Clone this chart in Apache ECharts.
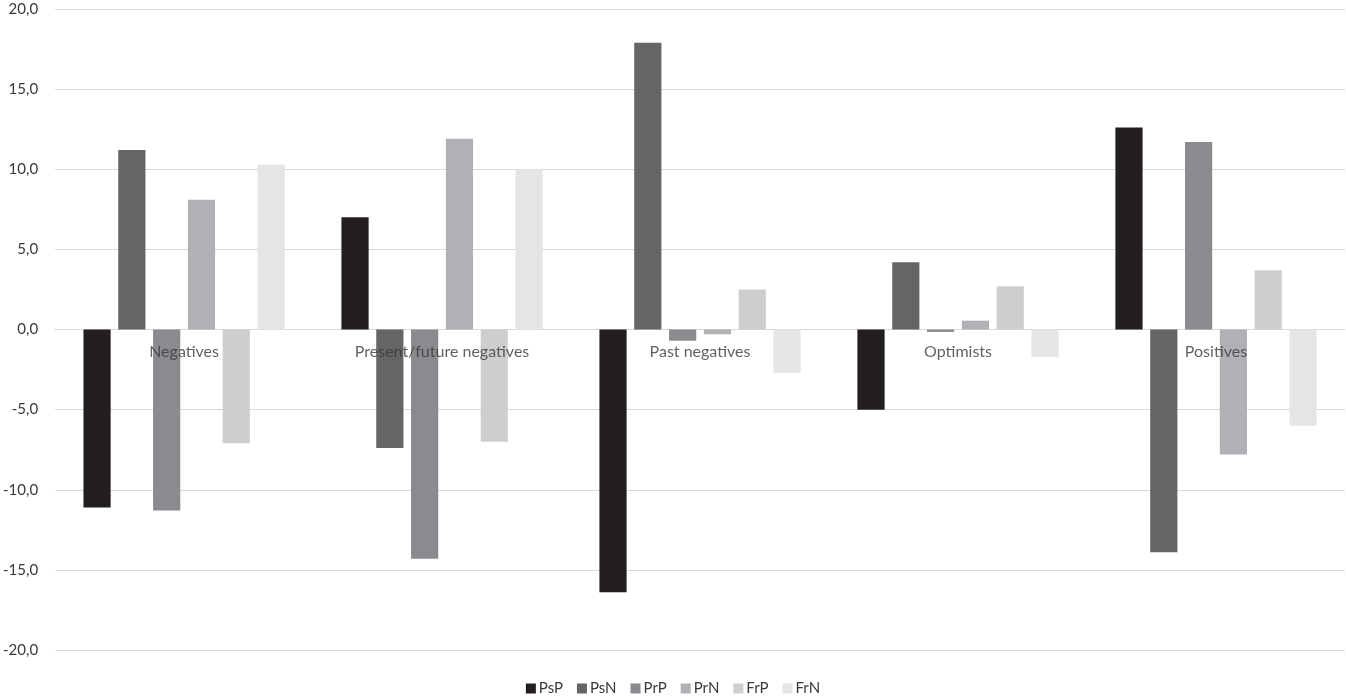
<!DOCTYPE html>
<html>
<head>
<meta charset="utf-8">
<script src="https://cdn.jsdelivr.net/npm/echarts@6/dist/echarts.min.js"></script>
<style>html,body{margin:0;padding:0;background:#fff}#c{width:1346px;height:696px}</style>
</head>
<body>
<div id="c"></div>
<script>
const categories = ['Negatives', 'Present/future negatives', 'Past negatives', 'Optimists', 'Positives'];
const seriesNames = ['PsP', 'PsN', 'PrP', 'PrN', 'FrP', 'FrN'];
const PsP = [-11.1, 7.0, -16.4, -5.0, 12.6];
const PsN = [11.2, -7.4, 17.9, 4.2, -13.9];
const PrP = [-11.3, -14.3, -0.7, -0.15, 11.7];
const PrN = [8.1, 11.9, -0.3, 0.55, -7.8];
const FrP = [-7.1, -7.0, 2.5, 2.7, 3.7];
const FrN = [10.3, 10.0, -2.7, -1.7, -6.0];
const seriesValues = [PsP, PsN, PrP, PrN, FrP, FrN];
const colors = ['#231f20', '#646567', '#8a8b8e', '#b0b1b4', '#cdcecf', '#e5e5e5'];

const chart = echarts.init(document.getElementById('c'), null, {renderer: 'canvas'});
const font = 'Lato, "Open Sans", sans-serif';
const barSeries = seriesNames.map((n, i) => ({
  name: n,
  type: 'bar',
  data: seriesValues[i],
  barGap: '28%',
  barCategoryGap: '22%',
  itemStyle: {color: colors[i]},
  z: 2
}));
// category labels sitting just below the zero line
const labelSeries = {
  name: 'categoryLabels',
  type: 'scatter',
  data: categories.map(c => [c, 0]),
  symbolSize: 0,
  silent: true,
  z: 10,
  label: {
    show: true,
    position: 'bottom',
    distance: 14,
    formatter: p => p.data[0],
    fontSize: 16,
    color: '#3a3a3a',
    fontFamily: font
  }
};
chart.setOption({
  animation: false,
  color: colors,
  textStyle: {fontFamily: font},
  grid: {left: 55, right: 1, top: 9, bottom: 46, containLabel: false},
  legend: {
    data: seriesNames,
    bottom: -5,
    left: 'center',
    icon: 'rect',
    itemWidth: 10,
    itemHeight: 10,
    itemGap: 14,
    textStyle: {fontSize: 15, color: '#3a3a3a', fontFamily: font, padding: [0, 0, 0, -2]}
  },
  xAxis: {
    type: 'category',
    data: categories,
    axisLine: {onZero: true, lineStyle: {color: '#d9d9d9', width: 1}},
    axisTick: {show: false},
    axisLabel: {show: false}
  },
  yAxis: {
    type: 'value',
    min: -20,
    max: 20,
    interval: 5,
    axisLine: {show: false},
    axisTick: {show: false},
    splitLine: {lineStyle: {color: '#d9d9d9', width: 1}},
    axisLabel: {
      fontSize: 15, color: '#3a3a3a', margin: 17, fontFamily: font,
      formatter: v => v.toFixed(1).replace('.', ',')
    }
  },
  series: barSeries.concat([labelSeries])
});
</script>
</body>
</html>
